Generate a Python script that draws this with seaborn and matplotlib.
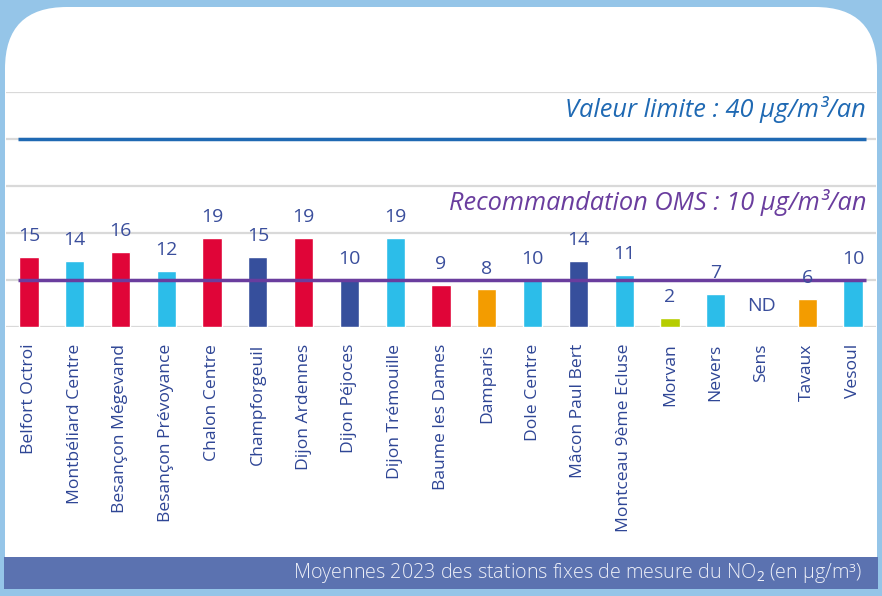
import numpy as np
import pandas as pd
import matplotlib
matplotlib.use("Agg")
import matplotlib.pyplot as plt
from matplotlib.patches import FancyBboxPatch, Rectangle
import seaborn as sns

stations = ["Belfort Octroi", "Montbéliard Centre", "Besançon Mégevand", "Besançon Prévoyance",
            "Chalon Centre", "Champforgeuil", "Dijon Ardennes", "Dijon Péjoces", "Dijon Trémouille",
            "Baume les Dames", "Damparis", "Dole Centre", "Mâcon Paul Bert", "Montceau 9ème Ecluse",
            "Morvan", "Nevers", "Sens", "Tavaux", "Vesoul"]
values = [15, 14, 16, 12, 19, 15, 19, 10, 19, 9, 8, 10, 14, 11, 2, 7, np.nan, 6, 10]
labels = ["15", "14", "16", "12", "19", "15", "19", "10", "19", "9", "8", "10", "14", "11",
          "2", "7", "ND", "6", "10"]
types = ["trafic", "urbain", "trafic", "urbain", "trafic", "industriel", "trafic", "industriel",
         "urbain", "trafic", "periurbain", "urbain", "industriel", "urbain", "rural", "urbain",
         "urbain", "periurbain", "urbain"]
type_colors = {"trafic": "#e00538", "urbain": "#2cbde9", "industriel": "#364f9c",
               "periurbain": "#f39c00", "rural": "#b6cd00"}
limit_value = 40
oms_value = 10

sns.set_theme(style="white")
plt.rcParams["font.family"] = ["Open Sans", "DejaVu Sans"]
plt.rcParams["mathtext.fontset"] = "custom"
plt.rcParams["mathtext.rm"] = "Open Sans"

W, H = 882, 596
fig = plt.figure(figsize=(W / 100, H / 100), dpi=100)
fig.patch.set_facecolor("#95c5e8")

# white rounded panel (rounded top corners only)
panel = FancyBboxPatch((5 / W, (H - 580) / H), 872 / W, 573 / H,
                       boxstyle="round,pad=0,rounding_size=0.07",
                       transform=fig.transFigure, facecolor="white", edgecolor="none",
                       mutation_aspect=W / H, zorder=0)
fig.patches.append(panel)
fig.patches.append(Rectangle((5 / W, (H - 560) / H), 872 / W, 260 / H,
                             transform=fig.transFigure, facecolor="white",
                             edgecolor="none", zorder=0.5))
# bottom banner
fig.patches.append(Rectangle((4 / W, (H - 589) / H), 874 / W, 32 / H,
                             transform=fig.transFigure, facecolor="#5b72b0",
                             edgecolor="none", zorder=1))
fig.text(862 / W, (H - 573) / H,
         "Moyennes 2023 des stations fixes de mesure du NO$_2$ (en µg/m³)",
         ha="right", va="center", color="#eef0f8", fontsize=14.2,
         family=["Open Sans", "DejaVu Sans"], fontweight="light", zorder=2)

ax = fig.add_axes([6 / W, (H - 327) / H, 870 / W, 235 / H])
ax.set_zorder(5)
ax.set_facecolor("none")

df = pd.DataFrame({"station": stations, "value": values, "type": types})
sns.barplot(data=df, x="station", y="value", hue="type", palette=type_colors,
            dodge=False, width=0.42, legend=False, ax=ax, zorder=3, saturation=1)

ax.set_ylim(0, 50)
ax.set_xlim(-0.5, len(stations) - 0.5)
ax.set_yticks(range(0, 51, 10))
ax.set_yticklabels([])
ax.yaxis.grid(True, color="#d9d9d9", lw=1.6, zorder=0)
ax.set_axisbelow(True)
for s in ax.spines.values():
    s.set_visible(False)
ax.set_xlabel("")
ax.set_ylabel("")
ax.tick_params(axis="x", length=0, pad=12)
ax.set_xticks(range(len(stations)))
ax.set_xticklabels(stations, rotation=90, ha="center", va="top",
                   color="#2e4595", fontsize=12.6)

x0 = -0.5 + 12 / 45.8
x1 = len(stations) - 0.5 - 10 / 45.8
ax.plot([x0, x1], [limit_value, limit_value], color="#1f69b3", lw=2.5, zorder=4,
        solid_capstyle="butt")
ax.plot([x0, x1], [oms_value, oms_value], color="#6a3d9e", lw=2.5, zorder=4,
        solid_capstyle="butt")

for i, (v, lab) in enumerate(zip(values, labels)):
    yv = 0 if np.isnan(v) else v
    ax.annotate(lab, (i, yv), xytext=(0, 15), textcoords="offset points",
                ha="center", va="center", color="#3a4e9c", fontsize=14, zorder=5)

ax.text(x1, 46.3, "Valeur limite : 40 µg/m³/an", ha="right", va="center",
        color="#1f69b3", fontsize=18.3, style="italic", zorder=5)
ax.text(x1, 26.5, "Recommandation OMS : 10 µg/m³/an", ha="right", va="center",
        color="#6a3d9e", fontsize=18.3, style="italic", zorder=5)

fig.savefig("out.png", dpi=100, facecolor=fig.get_facecolor())
